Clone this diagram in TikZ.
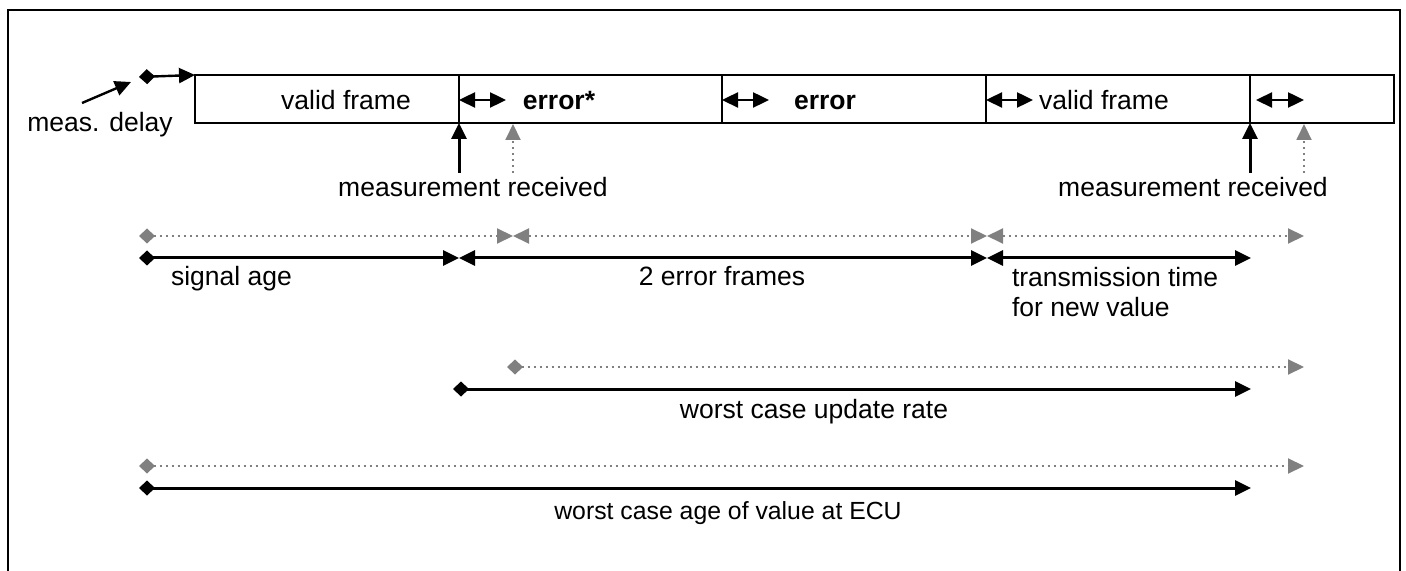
\documentclass[tikz,border=0pt]{standalone}
\usepackage{fontspec}
\setmainfont{Liberation Sans}
\usetikzlibrary{arrows.meta}
\begin{document}
\begin{tikzpicture}[x=0.5pt,y=-0.5pt,
  every node/.style={font=\fontsize{13.25}{16}\selectfont, inner sep=0pt, outer sep=0pt},
  framebox/.style={draw, line width=1pt, minimum height=24pt},
  blk/.style={draw=black, line width=1.5pt},
  gry/.style={draw=gray, line width=1pt, dotted},
  txt/.style={anchor=base},
  btxt/.style={anchor=base, font=\fontsize{13.25}{16}\selectfont\bfseries},
  dstart/.style={arrows={Diamond[length=8pt,width=7.5pt]-Triangle[length=8pt,width=7.5pt]}},
  dbl/.style={arrows={Triangle[length=8pt,width=7.5pt]-Triangle[length=8pt,width=7.5pt]}},
  single/.style={arrows={-Triangle[length=8pt,width=7.5pt]}},
  gdstart/.style={arrows={Diamond[length=8pt,width=7.5pt,fill=gray]-Triangle[length=8pt,width=7.5pt,fill=gray]}},
  gdbl/.style={arrows={Triangle[length=8pt,width=7.5pt,fill=gray]-Triangle[length=8pt,width=7.5pt,fill=gray]}},
  gsingle/.style={arrows={-Triangle[length=8pt,width=7.5pt,fill=gray]}}
]
\useasboundingbox (0,0) rectangle (1406,571);
% outer frame
\draw[line width=1.2pt] (8,571) -- (8,10) -- (1400,10) -- (1400,571);

% frames
\node[framebox, minimum width=132pt] (f1) at (327,99) {};
\node[framebox, minimum width=131.5pt] (f2) at (590.5,99) {};
\node[framebox, minimum width=132pt] (f3) at (854,99) {};
\node[framebox, minimum width=132pt] (f4) at (1118,99) {};
\node[framebox, minimum width=72pt] (f5) at (1322,99) {};

\node[txt] (t1) at (346,110) {valid frame};
\node[btxt] (t2) at (559,110) {error*};
\node[btxt] (t3) at (825,110) {error};
\node[txt] (t4) at (1104,110) {valid frame};

% double arrows inside frames
\coordinate (d2a) at (459,100); \coordinate (d2b) at (506,100);
\coordinate (d3a) at (722,100); \coordinate (d3b) at (769,100);
\coordinate (d4a) at (986,100); \coordinate (d4b) at (1033,100);
\coordinate (d5a) at (1256,100); \coordinate (d5b) at (1304,100);
\foreach \a/\b in {d2a/d2b,d3a/d3b,d4a/d4b,d5a/d5b}
  \draw[blk, line width=1.2pt, dbl] (\a) -- (\b);

% meas. delay
\coordinate (md0) at (139,77);
\draw[blk, line width=1.2pt, dstart] (md0) -- (f1.north west);
\node[txt] (mdl) at (100,132) {meas. delay};
\coordinate (mdp) at (82,103);
\coordinate (mdt) at (131,82);
\draw[blk, line width=1.2pt, single] (mdp) -- (mdt);

% measurement received
\coordinate (mr1) at (459,173); \coordinate (mr1g) at (513,173);
\coordinate (mr1gt) at (513,124);
\draw[blk, single] (mr1) -- (f1.south east);
\draw[gry, gsingle] (mr1g) -- (mr1gt);
\node[txt] (mrl1) at (473,197) {measurement received};

\coordinate (mr2) at (1250,173); \coordinate (mr2g) at (1304,173);
\coordinate (mr2gt) at (1304,124);
\draw[blk, single] (mr2) -- (f4.south east);
\draw[gry, gsingle] (mr2g) -- (mr2gt);
\node[txt] (mrl2) at (1193,197) {measurement received};

% row 1 gray
\coordinate (g1a) at (139,236); \coordinate (g1b) at (513,236);
\coordinate (g1c) at (987,236); \coordinate (g1d) at (1304,236);
\draw[gry, gdstart] (g1a) -- (g1b);
\draw[gry, gdbl] (g1b) -- (g1c);
\draw[gry, gdbl] (g1c) -- (g1d);

% row 1 black
\coordinate (b1a) at (139,258); \coordinate (b1b) at (459,258);
\coordinate (b1c) at (987,258); \coordinate (b1d) at (1251,258);
\draw[blk, dstart] (b1a) -- (b1b);
\draw[blk, dbl] (b1b) -- (b1c);
\draw[blk, dbl] (b1c) -- (b1d);
\node[txt, anchor=base west] (sa) at (171,286) {signal age};
\node[txt] (ef) at (722,286) {2 error frames};
\node[txt, anchor=base west] (tt1) at (1012,287) {transmission time};
\node[txt, anchor=base west] (tt2) at (1012,316) {for new value};

% row 2
\coordinate (g2a) at (507,367); \coordinate (g2b) at (1304,367);
\draw[gry, gdstart] (g2a) -- (g2b);
\coordinate (b2a) at (453,389); \coordinate (b2b) at (1251,389);
\draw[blk, dstart] (b2a) -- (b2b);
\node[txt] (wu) at (814,418) {worst case update rate};

% row 3
\coordinate (g3a) at (139,466); \coordinate (g3b) at (1304,466);
\draw[gry, gdstart] (g3a) -- (g3b);
\coordinate (b3a) at (139,488); \coordinate (b3b) at (1251,488);
\draw[blk, dstart] (b3a) -- (b3b);
\node[txt, font=\fontsize{12.4}{15}\selectfont] (wa) at (728,519) {worst case age of value at ECU};
\end{tikzpicture}
\end{document}
